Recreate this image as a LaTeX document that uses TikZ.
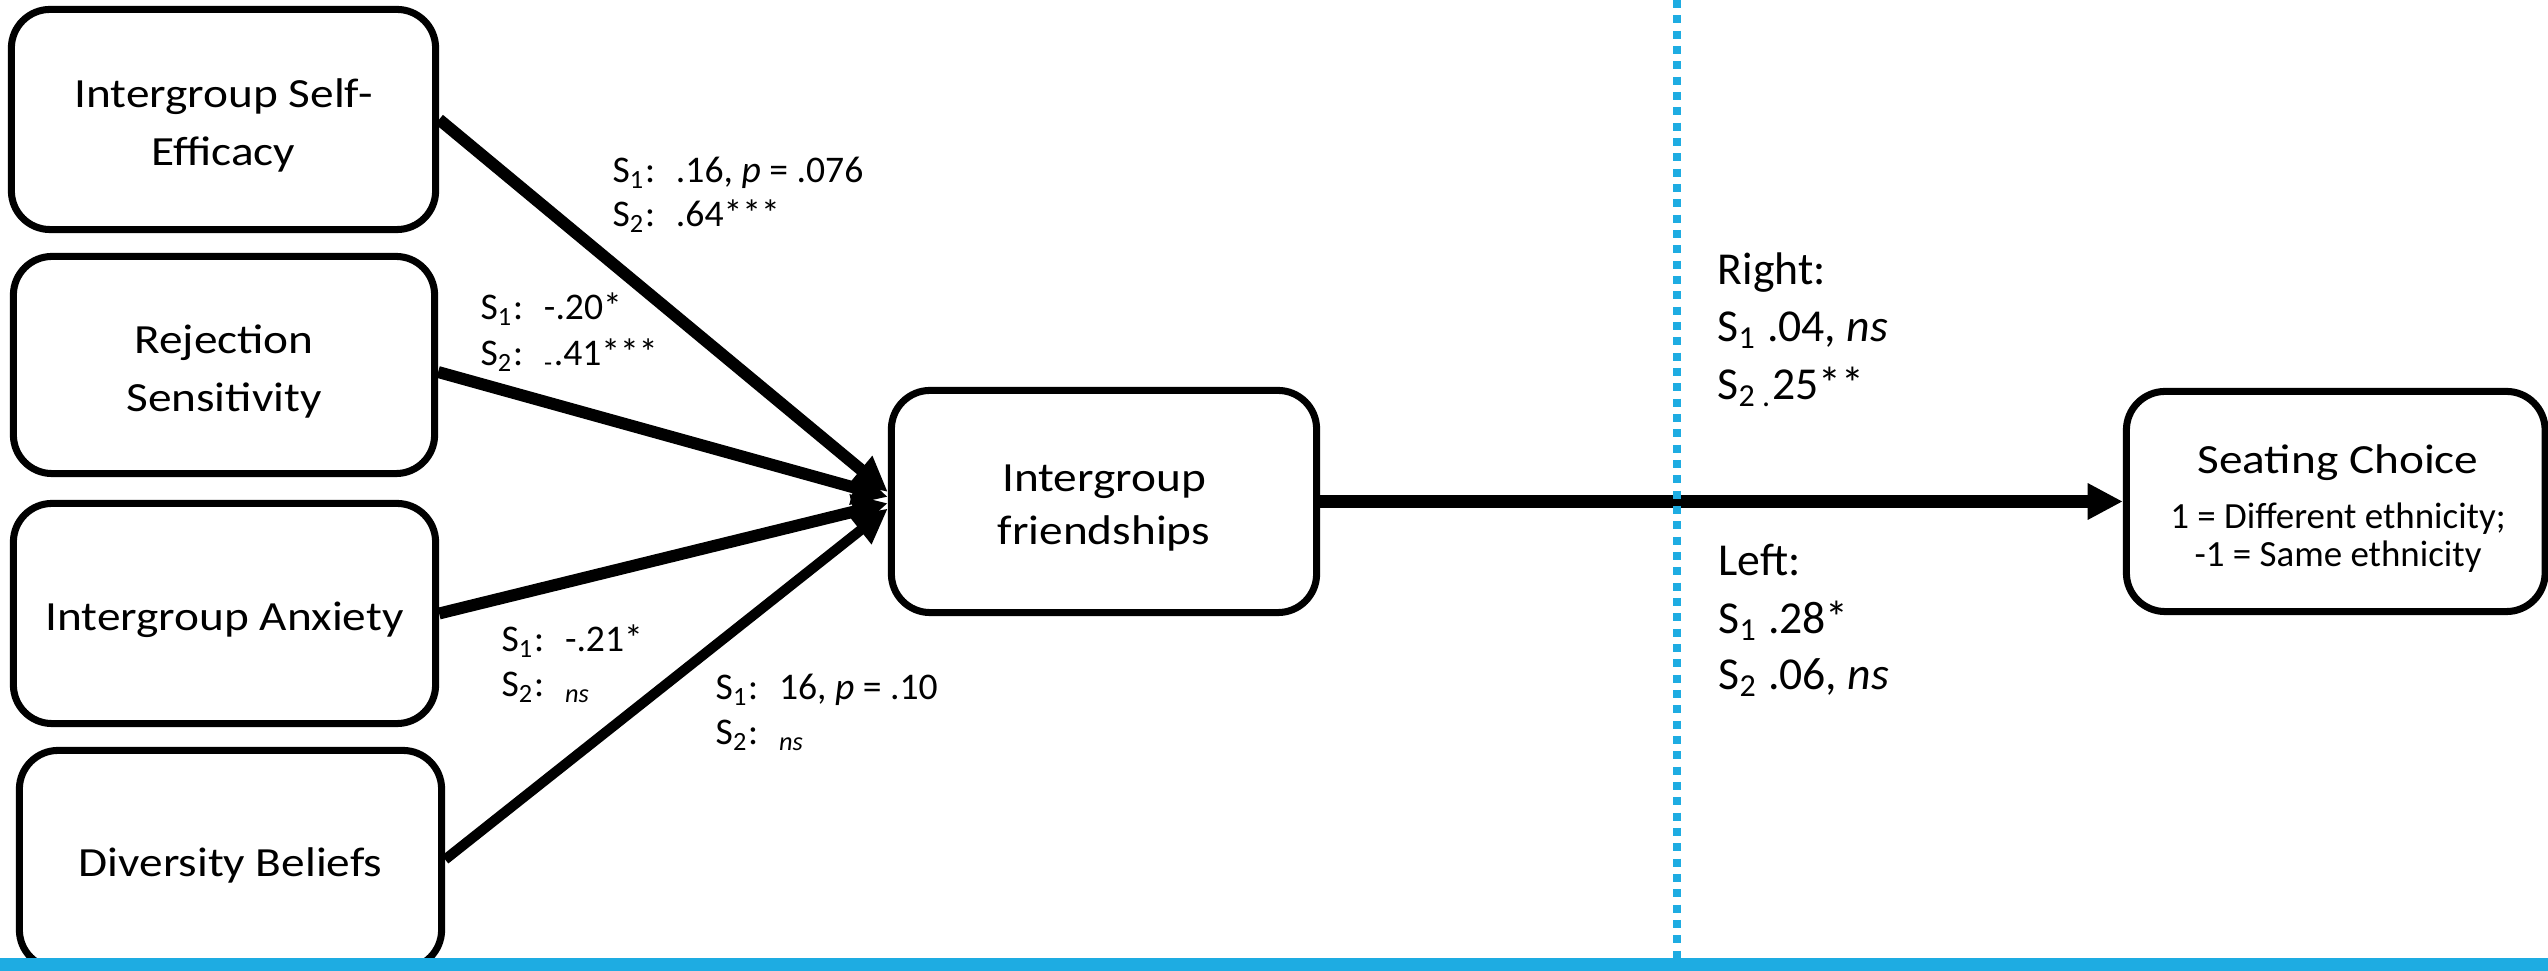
\documentclass[tikz,border=0pt]{standalone}
\usepackage{fontspec}
\setmainfont{Carlito}
\newfontfamily\boxfont{Carlito}[FakeStretch=1.14]
\usetikzlibrary{arrows.meta}
\definecolor{barblue}{RGB}{30,172,226}
\newcommand{\slab}[1]{\makebox[18pt][l]{S\textsubscript{#1}:}}

\begin{document}
\begin{tikzpicture}[x=0.01cm,y=-0.01cm,
  box/.style={draw, line width=2pt, rounded corners=11pt, inner sep=0pt},
  boxtext/.style={align=center, inner sep=0pt, font={\boxfont\fontsize{11.8}{16.5}\selectfont}},
  effect/.style={line width=3.4pt, -{Triangle[length=10pt,width=9.5pt]}},
  outcome/.style={line width=3.7pt, -{Triangle[length=10pt,width=9.7pt]}},
  coef/.style={anchor=base west, inner sep=0pt, font=\fontsize{10.7}{12}\selectfont},
  side/.style={anchor=base west, inner sep=0pt, font=\fontsize{13}{15}\selectfont},
  subline/.style={anchor=base, inner sep=0pt, font=\fontsize{10.5}{11}\selectfont},
]
\useasboundingbox (0,0) rectangle (2548,971);

% predictors
\node[box, minimum width=4.24cm, minimum height=2.20cm] (se) at (223.5,119.5) {};
\node[box, minimum width=4.21cm, minimum height=2.17cm] (rs) at (224,365) {};
\node[box, minimum width=4.22cm, minimum height=2.20cm] (ia) at (224.5,613.5) {};
\node[box, minimum width=4.22cm, minimum height=2.18cm] (db) at (230.5,859.5) {};
\node[boxtext] (set) at ([yshift=-1.8pt]se.center) {Intergroup Self-\\Efficacy};
\node[boxtext] (rst) at ([yshift=-1.8pt]rs.center) {Rejection\\Sensitivity};
\node[boxtext] (iat) at ([yshift=-1.8pt]ia.center) {Intergroup Anxiety};
\node[boxtext] (dbt) at ([yshift=-1.8pt]db.center) {Diversity Beliefs};

% mediator and outcome
\node[box, minimum width=4.25cm, minimum height=2.22cm] (fr) at (1104,501.5) {};
\node[boxtext, font={\boxfont\fontsize{11.8}{15}\selectfont}] (frt) at ([yshift=-1.8pt]fr.center) {Intergroup\\friendships};
\node[box, minimum width=4.185cm, minimum height=2.20cm] (sc) at (2335.75,501.5) {};
\node[anchor=base, inner sep=0pt, font={\boxfont\fontsize{11.8}{14}\selectfont}] (sct) at (2338,474) {Seating Choice};
\node[subline] (sc1) at (2338,529) {1 = Different ethnicity;};
\node[subline] (sc2) at (2338,567) {-1 = Same ethnicity};

% paths into the mediator
\draw[effect] (se.east) -- ([yshift=2.7pt]fr.west);
\draw[effect] ([yshift=-2pt]rs.east) -- ([yshift=1.3pt]fr.west);
\draw[effect] (ia.east) -- ([yshift=-0.5pt]fr.west);
\draw[effect, line width=2.9pt] (db.east) -- ([yshift=-2pt]fr.west);

% path to the outcome
\draw[outcome] (fr.east) -- (sc.west);

% divider and bottom rule
\draw[barblue, line width=2.28pt, dash pattern=on 2.28pt off 2.08pt] (1677,0) -- (1677,958);
\fill[barblue] (0,958) rectangle (2548,971);

% path coefficients
\node[coef] (c1a) at (612,183) {\slab{1}.16, \textit{p} = .076};
\node[coef] (c1b) at (612,227) {\slab{2}.64***};
\node[coef] (c2a) at (480,320) {\slab{1}-.20*};
\node[coef] (c2b) at (480,366) {\slab{2}\textsubscript{-}.41***};
\node[coef] (c3a) at (501,652) {\slab{1}-.21*};
\node[coef] (c3b) at (501,697) {\slab{2}\textsubscript{\textit{ns}}};
\node[coef] (c4a) at (715,700) {\slab{1}16, \textit{p} = .10};
\node[coef] (c4b) at (715,745) {\slab{2}\textsubscript{\textit{ns}}};

% seat side coefficients
\node[side] (r0) at (1717,285) {Right:};
\node[side] (r1) at (1717,342) {S\textsubscript{1} .04, \textit{ns}};
\node[side] (r2) at (1717,400) {S\textsubscript{2 .}25**};
\node[side] (l0) at (1718,576) {Left:};
\node[side] (l1) at (1718,634) {S\textsubscript{1} .28*};
\node[side] (l2) at (1718,690) {S\textsubscript{2} .06, \textit{ns}};
\end{tikzpicture}
\end{document}
